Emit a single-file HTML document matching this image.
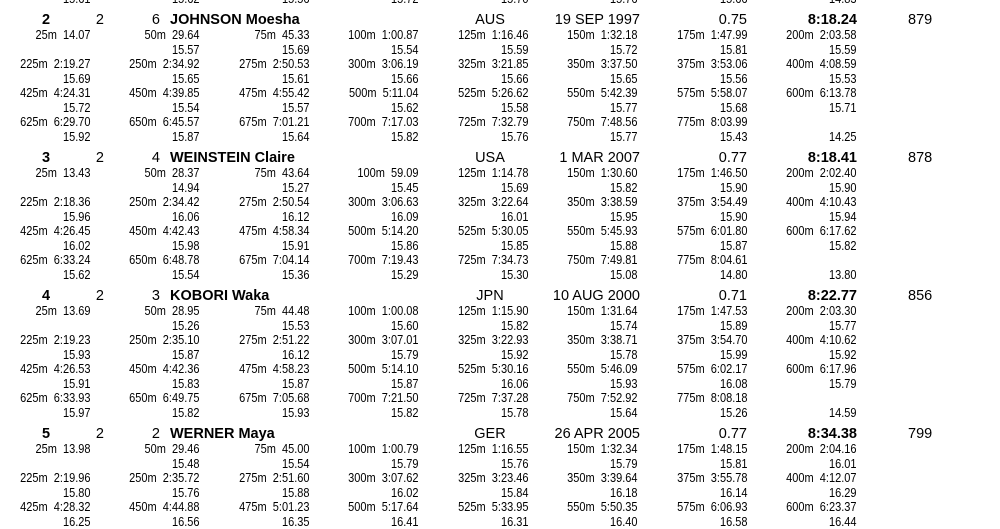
<!DOCTYPE html>
<html><head><meta charset="utf-8"><style>
body{margin:0;width:1000px;height:520px;overflow:hidden;background:#fff;font-family:"Liberation Sans",Arial,sans-serif;color:#000;position:relative}
.r{position:absolute;left:-19.5px;height:14px;line-height:14px;font-size:12.5px;white-space:nowrap}
.r span{display:inline-block;width:109.5px;text-align:right;transform:scaleX(0.88);transform-origin:right center}
.h{position:absolute;height:18px;line-height:18px;font-size:14.5px;white-space:nowrap}
.b{font-weight:bold}
</style></head><body>
<div class="r" style="top:-8px"><span>15.61</span><span>15.62</span><span>15.56</span><span>15.72</span><span>15.70</span><span>15.76</span><span>15.66</span><span>14.83</span></div>

<div class="h b" style="top:11px;left:36px;width:20px;text-align:center">2</div>
<div class="h" style="top:11px;left:84px;width:20px;text-align:right">2</div>
<div class="h" style="top:11px;left:140px;width:20px;text-align:right">6</div>
<div class="h b" style="top:11px;left:170px">JOHNSON Moesha</div>
<div class="h" style="top:11px;left:450px;width:80px;text-align:center">AUS</div>
<div class="h" style="top:11px;left:520px;width:120px;text-align:right">19 SEP 1997</div>
<div class="h" style="top:11px;left:667px;width:80px;text-align:right">0.75</div>
<div class="h b" style="top:11px;left:757px;width:100px;text-align:right">8:18.24</div>
<div class="h" style="top:11px;left:908px">879</div>
<div class="r" style="top:28px"><span>25m&nbsp;&nbsp;14.07</span><span>50m&nbsp;&nbsp;29.64</span><span>75m&nbsp;&nbsp;45.33</span><span>100m&nbsp;&nbsp;1:00.87</span><span>125m&nbsp;&nbsp;1:16.46</span><span>150m&nbsp;&nbsp;1:32.18</span><span>175m&nbsp;&nbsp;1:47.99</span><span>200m&nbsp;&nbsp;2:03.58</span></div>
<div class="r" style="top:42.5px"><span></span><span>15.57</span><span>15.69</span><span>15.54</span><span>15.59</span><span>15.72</span><span>15.81</span><span>15.59</span></div>
<div class="r" style="top:57px"><span>225m&nbsp;&nbsp;2:19.27</span><span>250m&nbsp;&nbsp;2:34.92</span><span>275m&nbsp;&nbsp;2:50.53</span><span>300m&nbsp;&nbsp;3:06.19</span><span>325m&nbsp;&nbsp;3:21.85</span><span>350m&nbsp;&nbsp;3:37.50</span><span>375m&nbsp;&nbsp;3:53.06</span><span>400m&nbsp;&nbsp;4:08.59</span></div>
<div class="r" style="top:71.5px"><span>15.69</span><span>15.65</span><span>15.61</span><span>15.66</span><span>15.66</span><span>15.65</span><span>15.56</span><span>15.53</span></div>
<div class="r" style="top:86px"><span>425m&nbsp;&nbsp;4:24.31</span><span>450m&nbsp;&nbsp;4:39.85</span><span>475m&nbsp;&nbsp;4:55.42</span><span>500m&nbsp;&nbsp;5:11.04</span><span>525m&nbsp;&nbsp;5:26.62</span><span>550m&nbsp;&nbsp;5:42.39</span><span>575m&nbsp;&nbsp;5:58.07</span><span>600m&nbsp;&nbsp;6:13.78</span></div>
<div class="r" style="top:100.5px"><span>15.72</span><span>15.54</span><span>15.57</span><span>15.62</span><span>15.58</span><span>15.77</span><span>15.68</span><span>15.71</span></div>
<div class="r" style="top:115px"><span>625m&nbsp;&nbsp;6:29.70</span><span>650m&nbsp;&nbsp;6:45.57</span><span>675m&nbsp;&nbsp;7:01.21</span><span>700m&nbsp;&nbsp;7:17.03</span><span>725m&nbsp;&nbsp;7:32.79</span><span>750m&nbsp;&nbsp;7:48.56</span><span>775m&nbsp;&nbsp;8:03.99</span><span></span></div>
<div class="r" style="top:129.5px"><span>15.92</span><span>15.87</span><span>15.64</span><span>15.82</span><span>15.76</span><span>15.77</span><span>15.43</span><span>14.25</span></div>

<div class="h b" style="top:149px;left:36px;width:20px;text-align:center">3</div>
<div class="h" style="top:149px;left:84px;width:20px;text-align:right">2</div>
<div class="h" style="top:149px;left:140px;width:20px;text-align:right">4</div>
<div class="h b" style="top:149px;left:170px">WEINSTEIN Claire</div>
<div class="h" style="top:149px;left:450px;width:80px;text-align:center">USA</div>
<div class="h" style="top:149px;left:520px;width:120px;text-align:right">1 MAR 2007</div>
<div class="h" style="top:149px;left:667px;width:80px;text-align:right">0.77</div>
<div class="h b" style="top:149px;left:757px;width:100px;text-align:right">8:18.41</div>
<div class="h" style="top:149px;left:908px">878</div>
<div class="r" style="top:166px"><span>25m&nbsp;&nbsp;13.43</span><span>50m&nbsp;&nbsp;28.37</span><span>75m&nbsp;&nbsp;43.64</span><span>100m&nbsp;&nbsp;59.09</span><span>125m&nbsp;&nbsp;1:14.78</span><span>150m&nbsp;&nbsp;1:30.60</span><span>175m&nbsp;&nbsp;1:46.50</span><span>200m&nbsp;&nbsp;2:02.40</span></div>
<div class="r" style="top:180.5px"><span></span><span>14.94</span><span>15.27</span><span>15.45</span><span>15.69</span><span>15.82</span><span>15.90</span><span>15.90</span></div>
<div class="r" style="top:195px"><span>225m&nbsp;&nbsp;2:18.36</span><span>250m&nbsp;&nbsp;2:34.42</span><span>275m&nbsp;&nbsp;2:50.54</span><span>300m&nbsp;&nbsp;3:06.63</span><span>325m&nbsp;&nbsp;3:22.64</span><span>350m&nbsp;&nbsp;3:38.59</span><span>375m&nbsp;&nbsp;3:54.49</span><span>400m&nbsp;&nbsp;4:10.43</span></div>
<div class="r" style="top:209.5px"><span>15.96</span><span>16.06</span><span>16.12</span><span>16.09</span><span>16.01</span><span>15.95</span><span>15.90</span><span>15.94</span></div>
<div class="r" style="top:224px"><span>425m&nbsp;&nbsp;4:26.45</span><span>450m&nbsp;&nbsp;4:42.43</span><span>475m&nbsp;&nbsp;4:58.34</span><span>500m&nbsp;&nbsp;5:14.20</span><span>525m&nbsp;&nbsp;5:30.05</span><span>550m&nbsp;&nbsp;5:45.93</span><span>575m&nbsp;&nbsp;6:01.80</span><span>600m&nbsp;&nbsp;6:17.62</span></div>
<div class="r" style="top:238.5px"><span>16.02</span><span>15.98</span><span>15.91</span><span>15.86</span><span>15.85</span><span>15.88</span><span>15.87</span><span>15.82</span></div>
<div class="r" style="top:253px"><span>625m&nbsp;&nbsp;6:33.24</span><span>650m&nbsp;&nbsp;6:48.78</span><span>675m&nbsp;&nbsp;7:04.14</span><span>700m&nbsp;&nbsp;7:19.43</span><span>725m&nbsp;&nbsp;7:34.73</span><span>750m&nbsp;&nbsp;7:49.81</span><span>775m&nbsp;&nbsp;8:04.61</span><span></span></div>
<div class="r" style="top:267.5px"><span>15.62</span><span>15.54</span><span>15.36</span><span>15.29</span><span>15.30</span><span>15.08</span><span>14.80</span><span>13.80</span></div>

<div class="h b" style="top:287px;left:36px;width:20px;text-align:center">4</div>
<div class="h" style="top:287px;left:84px;width:20px;text-align:right">2</div>
<div class="h" style="top:287px;left:140px;width:20px;text-align:right">3</div>
<div class="h b" style="top:287px;left:170px">KOBORI Waka</div>
<div class="h" style="top:287px;left:450px;width:80px;text-align:center">JPN</div>
<div class="h" style="top:287px;left:520px;width:120px;text-align:right">10 AUG 2000</div>
<div class="h" style="top:287px;left:667px;width:80px;text-align:right">0.71</div>
<div class="h b" style="top:287px;left:757px;width:100px;text-align:right">8:22.77</div>
<div class="h" style="top:287px;left:908px">856</div>
<div class="r" style="top:304px"><span>25m&nbsp;&nbsp;13.69</span><span>50m&nbsp;&nbsp;28.95</span><span>75m&nbsp;&nbsp;44.48</span><span>100m&nbsp;&nbsp;1:00.08</span><span>125m&nbsp;&nbsp;1:15.90</span><span>150m&nbsp;&nbsp;1:31.64</span><span>175m&nbsp;&nbsp;1:47.53</span><span>200m&nbsp;&nbsp;2:03.30</span></div>
<div class="r" style="top:318.5px"><span></span><span>15.26</span><span>15.53</span><span>15.60</span><span>15.82</span><span>15.74</span><span>15.89</span><span>15.77</span></div>
<div class="r" style="top:333px"><span>225m&nbsp;&nbsp;2:19.23</span><span>250m&nbsp;&nbsp;2:35.10</span><span>275m&nbsp;&nbsp;2:51.22</span><span>300m&nbsp;&nbsp;3:07.01</span><span>325m&nbsp;&nbsp;3:22.93</span><span>350m&nbsp;&nbsp;3:38.71</span><span>375m&nbsp;&nbsp;3:54.70</span><span>400m&nbsp;&nbsp;4:10.62</span></div>
<div class="r" style="top:347.5px"><span>15.93</span><span>15.87</span><span>16.12</span><span>15.79</span><span>15.92</span><span>15.78</span><span>15.99</span><span>15.92</span></div>
<div class="r" style="top:362px"><span>425m&nbsp;&nbsp;4:26.53</span><span>450m&nbsp;&nbsp;4:42.36</span><span>475m&nbsp;&nbsp;4:58.23</span><span>500m&nbsp;&nbsp;5:14.10</span><span>525m&nbsp;&nbsp;5:30.16</span><span>550m&nbsp;&nbsp;5:46.09</span><span>575m&nbsp;&nbsp;6:02.17</span><span>600m&nbsp;&nbsp;6:17.96</span></div>
<div class="r" style="top:376.5px"><span>15.91</span><span>15.83</span><span>15.87</span><span>15.87</span><span>16.06</span><span>15.93</span><span>16.08</span><span>15.79</span></div>
<div class="r" style="top:391px"><span>625m&nbsp;&nbsp;6:33.93</span><span>650m&nbsp;&nbsp;6:49.75</span><span>675m&nbsp;&nbsp;7:05.68</span><span>700m&nbsp;&nbsp;7:21.50</span><span>725m&nbsp;&nbsp;7:37.28</span><span>750m&nbsp;&nbsp;7:52.92</span><span>775m&nbsp;&nbsp;8:08.18</span><span></span></div>
<div class="r" style="top:405.5px"><span>15.97</span><span>15.82</span><span>15.93</span><span>15.82</span><span>15.78</span><span>15.64</span><span>15.26</span><span>14.59</span></div>

<div class="h b" style="top:425px;left:36px;width:20px;text-align:center">5</div>
<div class="h" style="top:425px;left:84px;width:20px;text-align:right">2</div>
<div class="h" style="top:425px;left:140px;width:20px;text-align:right">2</div>
<div class="h b" style="top:425px;left:170px">WERNER Maya</div>
<div class="h" style="top:425px;left:450px;width:80px;text-align:center">GER</div>
<div class="h" style="top:425px;left:520px;width:120px;text-align:right">26 APR 2005</div>
<div class="h" style="top:425px;left:667px;width:80px;text-align:right">0.77</div>
<div class="h b" style="top:425px;left:757px;width:100px;text-align:right">8:34.38</div>
<div class="h" style="top:425px;left:908px">799</div>
<div class="r" style="top:442px"><span>25m&nbsp;&nbsp;13.98</span><span>50m&nbsp;&nbsp;29.46</span><span>75m&nbsp;&nbsp;45.00</span><span>100m&nbsp;&nbsp;1:00.79</span><span>125m&nbsp;&nbsp;1:16.55</span><span>150m&nbsp;&nbsp;1:32.34</span><span>175m&nbsp;&nbsp;1:48.15</span><span>200m&nbsp;&nbsp;2:04.16</span></div>
<div class="r" style="top:456.5px"><span></span><span>15.48</span><span>15.54</span><span>15.79</span><span>15.76</span><span>15.79</span><span>15.81</span><span>16.01</span></div>
<div class="r" style="top:471px"><span>225m&nbsp;&nbsp;2:19.96</span><span>250m&nbsp;&nbsp;2:35.72</span><span>275m&nbsp;&nbsp;2:51.60</span><span>300m&nbsp;&nbsp;3:07.62</span><span>325m&nbsp;&nbsp;3:23.46</span><span>350m&nbsp;&nbsp;3:39.64</span><span>375m&nbsp;&nbsp;3:55.78</span><span>400m&nbsp;&nbsp;4:12.07</span></div>
<div class="r" style="top:485.5px"><span>15.80</span><span>15.76</span><span>15.88</span><span>16.02</span><span>15.84</span><span>16.18</span><span>16.14</span><span>16.29</span></div>
<div class="r" style="top:500px"><span>425m&nbsp;&nbsp;4:28.32</span><span>450m&nbsp;&nbsp;4:44.88</span><span>475m&nbsp;&nbsp;5:01.23</span><span>500m&nbsp;&nbsp;5:17.64</span><span>525m&nbsp;&nbsp;5:33.95</span><span>550m&nbsp;&nbsp;5:50.35</span><span>575m&nbsp;&nbsp;6:06.93</span><span>600m&nbsp;&nbsp;6:23.37</span></div>
<div class="r" style="top:514.5px"><span>16.25</span><span>16.56</span><span>16.35</span><span>16.41</span><span>16.31</span><span>16.40</span><span>16.58</span><span>16.44</span></div>
</body></html>
